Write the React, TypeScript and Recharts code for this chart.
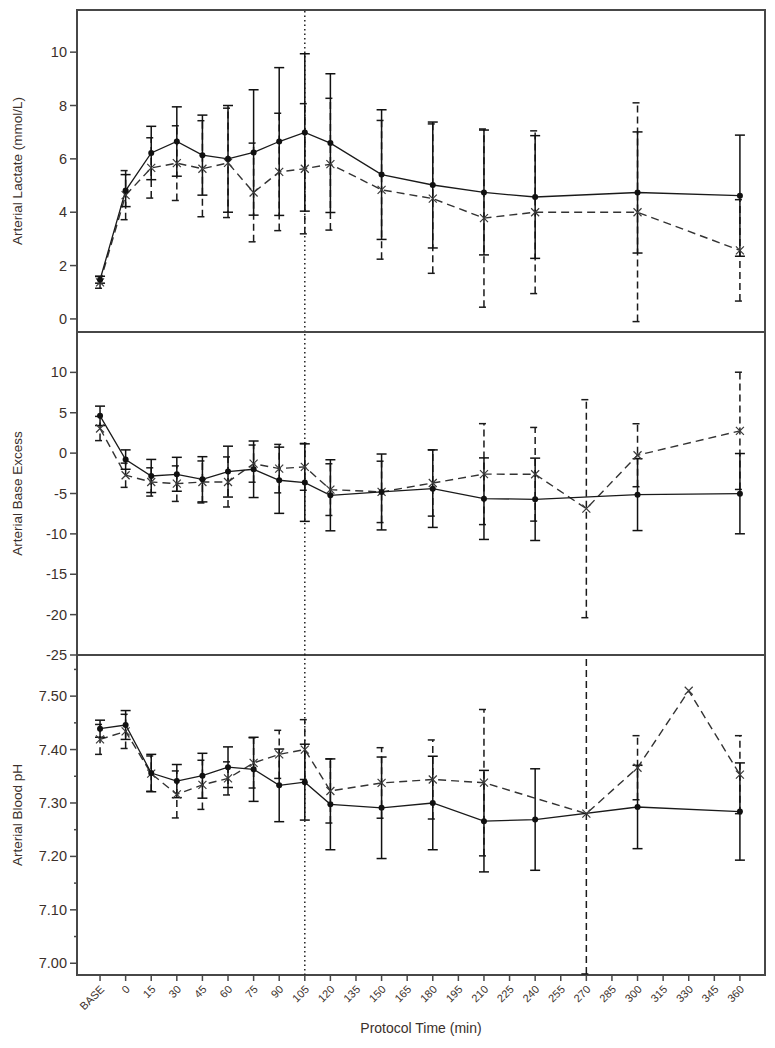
import React from "react";
import { LineChart, Line, XAxis, YAxis, ErrorBar, ReferenceLine, ReferenceArea } from "recharts";

// protocol time points (index 0..25 on the x axis)
const times = [
  "BASE", "0", "15", "30", "45", "60", "75", "90", "105", "120", "135", "150", "165",
  "180", "195", "210", "225", "240", "255", "270", "285", "300", "315", "330", "345", "360",
];

// arterial lactate (mmol/L): solid = group A, dashed = group B
const lactateA = [1.47, 4.81, 6.22, 6.65, 6.14, 6.0, 6.24, 6.65, 6.99, 6.59, null, 5.41, null, 5.02, null, 4.74, null, 4.57, null, null, null, 4.74, null, null, null, 4.62];
const lactateASd = [0.13, 0.6, 1.0, 1.3, 1.5, 2.0, 2.35, 2.77, 2.95, 2.6, null, 2.43, null, 2.36, null, 2.34, null, 2.3, null, null, null, 2.27, null, null, null, 2.27];
const lactateB = [1.37, 4.64, 5.66, 5.84, 5.63, 5.85, 4.74, 5.51, 5.63, 5.8, null, 4.84, null, 4.51, null, 3.78, null, 4.0, null, null, null, 4.0, null, null, null, 2.57];
const lactateBSd = [0.22, 0.92, 1.13, 1.4, 1.8, 2.05, 1.85, 2.2, 2.44, 2.47, null, 2.6, null, 2.8, null, 3.34, null, 3.05, null, null, null, 4.1, null, null, null, 1.9];

// arterial base excess
const beA = [4.62, -0.8, -2.83, -2.62, -3.24, -2.29, -2.0, -3.36, -3.65, -5.22, null, -4.81, null, -4.4, null, -5.64, null, -5.72, null, null, null, -5.14, null, null, null, -5.02];
const beASd = [1.2, 1.2, 2.05, 2.1, 2.8, 3.15, 3.5, 4.1, 4.8, 4.4, null, 4.7, null, 4.8, null, 5.05, null, 5.1, null, null, null, 4.45, null, null, null, 4.97];
const beB = [3.05, -2.74, -3.57, -3.78, -3.57, -3.57, -1.3, -1.92, -1.7, -4.52, null, -4.8, null, -3.7, null, -2.6, null, -2.62, null, -6.88, null, -0.26, null, null, null, 2.76];
const beBSd = [1.5, 1.5, 1.75, 2.2, 2.6, 3.1, 2.3, 3.0, 2.9, 3.2, null, 3.8, null, 4.1, null, 6.25, null, 5.8, null, 13.5, null, 3.9, null, null, null, 7.26];

// arterial blood pH
const phA = [7.439, 7.446, 7.356, 7.341, 7.351, 7.367, 7.363, 7.333, 7.339, 7.2975, null, 7.291, null, 7.3, null, 7.266, null, 7.269, null, null, null, 7.2925, null, null, null, 7.284];
const phASd = [0.016, 0.027, 0.035, 0.031, 0.042, 0.038, 0.06, 0.068, 0.071, 0.085, null, 0.095, null, 0.0875, null, 0.095, null, 0.095, null, null, null, 0.078, null, null, null, 0.091];
const phB = [7.419, 7.434, 7.355, 7.316, 7.334, 7.346, 7.375, 7.391, 7.4, 7.3225, null, 7.3375, null, 7.344, null, 7.338, null, null, null, 7.28, null, 7.366, null, 7.51, null, 7.353];
const phBSd = [0.028, 0.032, 0.033, 0.044, 0.046, 0.031, 0.047, 0.045, 0.056, 0.06, null, 0.066, null, 0.074, null, 0.137, null, null, null, 0.3, null, 0.06, null, null, null, 0.073];

const lactateTicks = [0, 2, 4, 6, 8, 10];
const beTicks = [-25, -20, -15, -10, -5, 0, 5, 10];
const phTicks = [7.0, 7.05, 7.1, 7.15, 7.2, 7.25, 7.3, 7.35, 7.4, 7.45, 7.5, 7.55];

const MARKER_TIME = 8; // index of "105"

const X_DOMAIN: [number, number] = [-0.9, 25.98];
const xTicks = times.map((_, i) => i);

const TEXT = "#3b302b";
const FRAME = "#474747";
const FONT = "Arial, 'Liberation Sans', sans-serif";
const TICK_SIZE = 7;
const TICK_MARGIN = 3;

function rows(a: (number | null)[], aSd: (number | null)[], b: (number | null)[], bSd: (number | null)[]) {
  return times.map((t, i) => ({ i, t, a: a[i], aSd: aSd[i], b: b[i], bSd: bSd[i] }));
}

const Cross = (props: any) => {
  const { cx, cy, index } = props;
  if (cx == null || cy == null || Number.isNaN(cy)) return <g key={`c${index}`} />;
  const s = 4;
  return (
    <path
      key={`c${index}`}
      d={`M${cx - s},${cy - s}L${cx + s},${cy + s}M${cx - s},${cy + s}L${cx + s},${cy - s}`}
      stroke="#3a3a3a"
      strokeWidth={1.2}
      fill="none"
    />
  );
};

const Dot = (props: any) => {
  const { cx, cy, index } = props;
  if (cx == null || cy == null || Number.isNaN(cy)) return <g key={`d${index}`} />;
  return <circle key={`d${index}`} cx={cx} cy={cy} r={3} fill="#111" stroke="none" />;
};

const XTick = (props: any) => {
  const { x, y, payload } = props;
  return (
    <g transform={`translate(${x + 5},${y + 7})`}>
      <text transform="rotate(-45)" textAnchor="end" fontSize={11} fill={TEXT} fontFamily={FONT}>
        {times[payload.value]}
      </text>
    </g>
  );
};

const makeYTick = (digits: number, isMajor: (v: number) => boolean) => (props: any) => {
  const { x, y, payload } = props;
  const v = payload.value as number;
  const ax = x + TICK_SIZE + TICK_MARGIN;
  const major = isMajor(v);
  return (
    <g>
      <line x1={ax} x2={ax - (major ? TICK_SIZE : 3)} y1={y} y2={y} stroke={FRAME} strokeWidth={1.5} />
      {major && (
        <text x={x} y={y} dy={5} textAnchor="end" fontSize={14.5} fill={TEXT} fontFamily={FONT}>
          {v.toFixed(digits)}
        </text>
      )}
    </g>
  );
};

const yTitle = (text: string) => (props: any) => {
  const vb = props.viewBox || {};
  const cx = (vb.x ?? 0) + 17;
  const cy = vb.y + vb.height / 2;
  return (
    <text
      x={cx}
      y={cy}
      transform={`rotate(-90, ${cx}, ${cy})`}
      textAnchor="middle"
      dy={5}
      fontSize={13.5}
      fill={TEXT}
      fontFamily={FONT}
    >
      {text}
    </text>
  );
};

interface PanelProps {
  data: ReturnType<typeof rows>;
  domain: [number, number];
  ticks: number[];
  digits: number;
  isMajor?: (v: number) => boolean;
  title: string;
  height: number;
  top: number;
  showX?: boolean;
  spill?: boolean;
}

function Panel({ data, domain, ticks, digits, isMajor = () => true, title, height, top, showX, spill }: PanelProps) {
  return (
    <LineChart
      className={spill ? "spill" : undefined}
      width={775}
      height={height}
      data={data}
      margin={{ top, right: 10, bottom: showX ? 11 : 0, left: 0 }}
    >
      <XAxis
        type="number"
        dataKey="i"
        domain={X_DOMAIN}
        ticks={xTicks}
        interval={0}
        allowDataOverflow
        hide={!showX}
        height={showX ? 62 : 0}
        axisLine={false}
        tickSize={6}
        tickLine={{ stroke: FRAME, strokeWidth: 1.5 }}
        tick={<XTick />}
        label={{
          value: "Protocol Time (min)",
          position: "insideBottom",
          offset: 4,
          fontSize: 14,
          fill: TEXT,
          fontFamily: FONT,
        }}
      />
      <YAxis
        type="number"
        domain={domain}
        ticks={ticks}
        interval={0}
        allowDataOverflow
        width={77}
        axisLine={false}
        tickLine={false}
        tickSize={TICK_SIZE}
        tickMargin={TICK_MARGIN}
        tick={makeYTick(digits, isMajor)}
        label={yTitle(title)}
      />
      <ReferenceArea
        x1={X_DOMAIN[0]}
        x2={X_DOMAIN[1]}
        y1={domain[0]}
        y2={domain[1]}
        fill="none"
        stroke={FRAME}
        strokeWidth={2}
        ifOverflow="visible"
      />
      <ReferenceLine x={MARKER_TIME} stroke="#222" strokeWidth={1.5} strokeDasharray="1.5 3" />
      <Line
        dataKey="b"
        stroke="#333"
        strokeWidth={1.4}
        strokeDasharray="8 5"
        connectNulls
        dot={Cross}
        activeDot={false}
        isAnimationActive={false}
      >
        <ErrorBar dataKey="bSd" width={5} stroke="#1a1a1a" strokeWidth={1.5} strokeDasharray="7 4" isAnimationActive={false} />
      </Line>
      <Line
        dataKey="a"
        stroke="#1a1a1a"
        strokeWidth={1.3}
        connectNulls
        dot={Dot}
        activeDot={false}
        isAnimationActive={false}
      >
        <ErrorBar dataKey="aSd" width={5} stroke="#111" strokeWidth={1.5} isAnimationActive={false} />
      </Line>
    </LineChart>
  );
}

export default function App() {
  return (
    <div style={{ position: "absolute", left: 0, top: 0, width: 775, height: 1048, background: "#fff" }}>
      {/* the "-25" tick sits on the border shared with the pH panel */}
      <style>{`.spill .recharts-surface { overflow: visible; }`}</style>
      <Panel
        data={rows(lactateA, lactateASd, lactateB, lactateBSd)}
        domain={[-0.49, 11.58]}
        ticks={lactateTicks}
        digits={0}
        title="Arterial Lactate (mmol/L)"
        height={332}
        top={10}
      />
      <Panel
        data={rows(beA, beASd, beB, beBSd)}
        domain={[-25, 15]}
        ticks={beTicks}
        digits={0}
        title="Arterial Base Excess"
        height={323}
        top={0}
        spill
      />
      <Panel
        data={rows(phA, phASd, phB, phBSd)}
        domain={[6.978, 7.577]}
        ticks={phTicks}
        digits={2}
        isMajor={(v) => Math.round(v * 100) % 10 === 0}
        title="Arterial Blood pH"
        height={393}
        top={0}
        showX
      />
    </div>
  );
}
